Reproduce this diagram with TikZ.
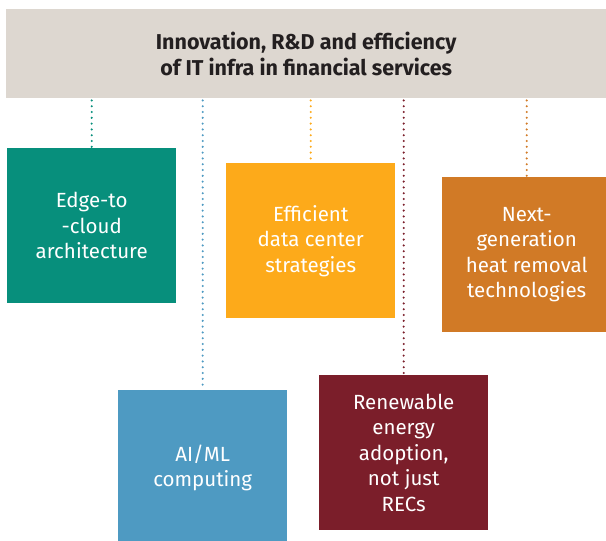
\documentclass[tikz,border=0pt]{standalone}
\usepackage{fontspec}
\setmainfont{Fira Sans}
\usetikzlibrary{calc,positioning}
\definecolor{headgray}{HTML}{DDD7D0}
\definecolor{titleink}{HTML}{231F20}
\definecolor{tealbox}{HTML}{078F7C}
\definecolor{bluebox}{HTML}{4E9AC2}
\definecolor{yellowbox}{HTML}{FDAA1A}
\definecolor{wine}{HTML}{7B1E2A}
\definecolor{orangebox}{HTML}{D17A26}

\tikzset{
  topic/.style={anchor=north west,minimum width=169pt,minimum height=155pt,
    inner sep=0pt,align=center,text=white,font=\fontsize{20.5}{25.5}\selectfont},
  link/.style={line width=2.3pt,line cap=round,dash pattern=on 0pt off 5.8pt}
}

\begin{document}
\begin{tikzpicture}[x=1pt,y=-1pt]
        \useasboundingbox (0,0) rectangle (606,541);
        \fill[white] (0,0) rectangle (606,541);
        % heading bar
        \node[fill=headgray,anchor=north west,minimum width=600pt,minimum height=89pt,inner sep=0pt,
          align=center,text=titleink,font=\bfseries\fontsize{21.5}{26}\selectfont] (head) at (6,9)
          {Innovation, R\&D and efficiency\\of IT infra in financial services};
        \node[topic,fill=tealbox] (edge) at (7,148) {Edge-to\\-cloud\\architecture};
        \node[topic,fill=bluebox] (aiml) at (118,390) {AI/ML\\computing};
        \node[topic,fill=yellowbox] (dcs) at (226,163) {Efficient\\data center\\strategies};
        \node[topic,fill=wine] (renew) at (319,375) {Renewable\\energy\\adoption,\\not just\\RECs};
        \node[topic,fill=orangebox] (heat) at (442,177) {Next-\\generation\\heat removal\\technologies};
        % dotted links
        \foreach \b/\c in {edge/tealbox,aiml/bluebox,dcs/yellowbox,renew/wine,heat/orangebox}
          \draw[link,\c] (head.south -| \b.north) ++(0,2) -- (\b.north);
      \end{tikzpicture}
\end{document}
